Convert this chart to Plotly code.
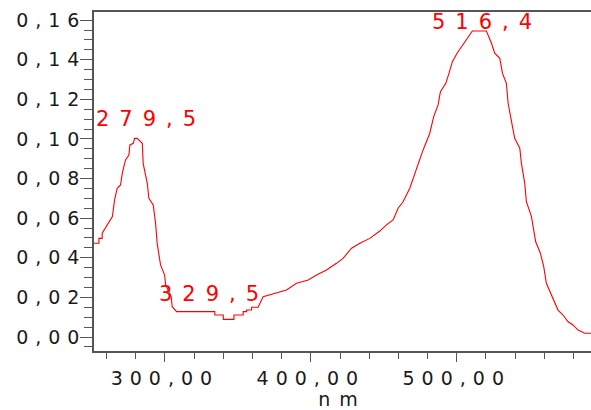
import plotly.graph_objects as go

# ---- data ----
wavelength_nm = [251.4, 254.8, 254.8, 257.0, 257.0, 262.8, 264.0, 265.5, 267.3, 269.6,
                 270.8, 273.0, 275.3, 276.0, 278.3, 279.2, 281.0, 284.5, 285.1, 287.9,
                 289.0, 292.0, 293.6, 294.7, 297.0, 299.8, 300.5, 304.3, 305.0, 308.0,
                 334.2, 334.2, 340.0, 340.0, 347.3, 347.3, 353.6, 353.6, 356.0, 356.0,
                 359.4, 359.4, 363.9, 367.3, 376.5, 383.3, 390.2, 398.2, 403.9, 410.7,
                 417.6, 422.1, 427.9, 433.6, 440.4, 447.3, 451.8, 456.4, 459.8, 463.2,
                 467.8, 471.2, 473.5, 476.5, 479.2, 481.5, 484.2, 487.2, 488.8, 492.5,
                 494.7, 497.0, 500.2, 503.2, 506.2, 508.9, 510.7, 520.3, 523.8, 526.0,
                 529.5, 531.3, 534.0, 535.2, 537.5, 539.7, 543.2, 544.3, 546.6, 547.7,
                 551.2, 552.7, 554.1, 557.3, 559.6, 561.4, 564.2, 567.1, 569.4, 572.8,
                 576.3, 579.7, 583.1, 587.7, 592.0]
absorbance = [0.0473, 0.0473, 0.0498, 0.0498, 0.0524, 0.0590, 0.0608, 0.0692, 0.0751, 0.0768,
              0.0827, 0.0894, 0.0919, 0.0970, 0.0978, 0.1003, 0.1003, 0.0978, 0.0877, 0.0776,
              0.0700, 0.0667, 0.0574, 0.0473, 0.0364, 0.0313, 0.0263, 0.0204, 0.0153, 0.0128,
              0.0128, 0.0111, 0.0111, 0.0089, 0.0089, 0.0111, 0.0111, 0.0128, 0.0128, 0.0136,
              0.0136, 0.0150, 0.0150, 0.0204, 0.0221, 0.0237, 0.0271, 0.0288, 0.0313, 0.0338,
              0.0372, 0.0397, 0.0448, 0.0473, 0.0498, 0.0535, 0.0566, 0.0591, 0.0650, 0.0683,
              0.0751, 0.0827, 0.0877, 0.0936, 0.0986, 0.1029, 0.1113, 0.1172, 0.1239, 0.1281,
              0.1332, 0.1390, 0.1433, 0.1466, 0.1500, 0.1525, 0.1545, 0.1545, 0.1483, 0.1433,
              0.1407, 0.1332, 0.1281, 0.1180, 0.1096, 0.1003, 0.0953, 0.0877, 0.0776, 0.0683,
              0.0608, 0.0540, 0.0481, 0.0423, 0.0355, 0.0271, 0.0221, 0.0170, 0.0136, 0.0111,
              0.0077, 0.0061, 0.0035, 0.0019, 0.0019]

peak_nm = [279.5, 329.5, 516.4]
peak_abs = [0.1003, 0.0128, 0.1545]
peak_labels = ["279,5", "329,5", "516,4"]

x_tick_vals = [300, 400, 500]
x_tick_labels = ["300,00", "400,00", "500,00"]
y_tick_vals = [0.00, 0.02, 0.04, 0.06, 0.08, 0.10, 0.12, 0.14, 0.16]
y_tick_labels = ["0,00", "0,02", "0,04", "0,06", "0,08", "0,10", "0,12", "0,14", "0,16"]
x_title = "nm"

# ---- styling ----
AXIS_COLOR = "#555555"
TEXT_COLOR = "#1a1a1a"
RED = "#ff0000"
FONT = "DejaVu Sans, Verdana, sans-serif"


def spaced(s, px):
    return f'<span style="letter-spacing:{px}px">{s}</span>'


fig = go.Figure()
fig.add_trace(go.Scatter(
    x=wavelength_nm, y=absorbance, mode="lines",
    line=dict(color=RED, width=1.1), hoverinfo="skip", showlegend=False,
))

label_shift = [(16, 5), (6, 4), (6, -5)]  # (xshift, yshift) px per label
for nm, a, lab, (dx, dy) in zip(peak_nm, peak_abs, peak_labels, label_shift):
    fig.add_annotation(
        x=nm, y=a, xref="x", yref="y", text=spaced(lab, 10), showarrow=False,
        xanchor="center", yanchor="bottom", xshift=dx, yshift=dy,
        font=dict(family=FONT, size=21, color=RED),
    )

fig.update_layout(
    width=591, height=410,
    margin=dict(l=94, r=0, t=12, b=59),
    paper_bgcolor="white", plot_bgcolor="white",
    showlegend=False,
    font=dict(family=FONT, size=19, color=TEXT_COLOR),
)

TICKFONT = dict(family=FONT, size=19, color=TEXT_COLOR)

fig.update_xaxes(
    range=[251.4, 592.0], showgrid=False, zeroline=False,
    showline=True, linecolor=AXIS_COLOR, linewidth=1.5, mirror=True,
    ticks="outside", ticklen=9, tickwidth=1.2, tickcolor=AXIS_COLOR,
    tickmode="array", tickvals=x_tick_vals,
    ticktext=[spaced(t, 7) for t in x_tick_labels],
    tickfont=TICKFONT,
    minor=dict(ticks="outside", ticklen=6, tickwidth=1.2, tickcolor=AXIS_COLOR,
               tickmode="linear", tick0=0, dtick=20, showgrid=False),
    title=dict(text=spaced(x_title, 9), font=TICKFONT, standoff=5),
)

fig.update_yaxes(
    range=[-0.00707, 0.1641], showgrid=False, zeroline=False,
    showline=True, linecolor=AXIS_COLOR, linewidth=1.5, mirror=False,
    ticks="outside", ticklen=12, tickwidth=1.2, tickcolor=AXIS_COLOR,
    tickmode="array", tickvals=y_tick_vals,
    ticktext=[spaced(t, 7) for t in y_tick_labels],
    tickfont=TICKFONT,
    ticklabelstandoff=-10,
    minor=dict(ticks="outside", ticklen=8, tickwidth=1.2, tickcolor=AXIS_COLOR,
               tickmode="linear", tick0=0, dtick=0.005, showgrid=False),
)

fig.write_html("out.html")
